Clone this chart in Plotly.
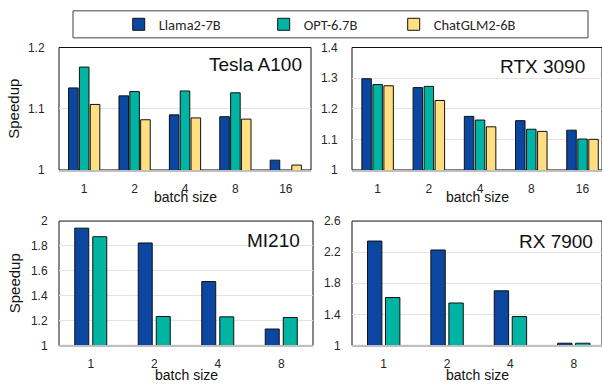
import plotly.graph_objects as go

W, H = 602, 392

series = ["Llama2-7B", "OPT-6.7B", "ChatGLM2-6B"]
colors = ["#0B47A1", "#00B4A4", "#FFDF80"]

a100_batch = ["1", "2", "4", "8", "16"]
a100_llama = [1.134, 1.121, 1.090, 1.087, 1.016]
a100_opt = [1.168, 1.128, 1.129, 1.126, None]
a100_glm = [1.107, 1.082, 1.085, 1.083, 1.008]

rtx_batch = ["1", "2", "4", "8", "16"]
rtx_llama = [1.298, 1.269, 1.175, 1.161, 1.130]
rtx_opt = [1.279, 1.273, 1.163, 1.133, 1.101]
rtx_glm = [1.275, 1.227, 1.141, 1.126, 1.100]

mi_batch = ["1", "2", "4", "8"]
mi_llama = [1.943, 1.824, 1.514, 1.132]
mi_opt = [1.874, 1.233, 1.230, 1.225]

rx_batch = ["1", "2", "4", "8"]
rx_llama = [2.343, 2.228, 1.703, 1.029]
rx_opt = [1.616, 1.546, 1.372, 1.029]

panels = [
    dict(name="Tesla A100", x=a100_batch, ys=[a100_llama, a100_opt, a100_glm],
         px=(59, 311), py=(42, 169), yr=(1, 1.2), dt=0.1, xr=(-0.5, 4.5),
         s=0.215, w=0.19, tshift=(-7, 17.5), tl=11, xtl=7, tb=207),
    dict(name="RTX 3090", x=rtx_batch, ys=[rtx_llama, rtx_opt, rtx_glm],
         px=(352, 602), py=(42, 169), yr=(1, 1.4), dt=0.1, xr=(-0.5, 4.38),
         s=0.215, w=0.185, tshift=(-15, 19.5), tl=11, xtl=7, tb=207),
    dict(name="MI210", x=mi_batch, ys=[mi_llama, mi_opt],
         px=(59, 313), py=(222, 351), yr=(1, 2), dt=0.2, xr=(-0.5, 3.5),
         s=0.284, w=0.22, tshift=(-11, 19.5), tl=8, xtl=6, tb=392),
    dict(name="RX 7900", x=rx_batch, ys=[rx_llama, rx_opt],
         px=(352, 602), py=(222, 351), yr=(1, 2.6), dt=0.4, xr=(-0.5, 3.445),
         s=0.284, w=0.227, tshift=(-7, 20.5), tl=8, xtl=6, tb=392),
]

AX_FONT = "Liberation Sans, Arial, sans-serif"
LEG_FONT = "Carlito, Lato, sans-serif"

fig = go.Figure()
layout = {}
annotations = []
shapes = []

for i, p in enumerate(panels):
    k = "" if i == 0 else str(i + 1)
    xa, ya = "x" + k, "y" + k
    n = len(p["ys"])
    for j, yv in enumerate(p["ys"]):
        centre = (j - (n - 1) / 2) * p["s"]
        fig.add_trace(go.Bar(
            x=p["x"], y=yv, xaxis=xa, yaxis=ya,
            name=series[j],
            marker=dict(color=colors[j], line=dict(color="#111111", width=1)),
            width=p["w"], offset=centre - p["w"] / 2,
            showlegend=(i == 0),
            legend="legend" if j == 0 else "legend" + str(j + 1),
        ))
    x0, x1 = p["px"][0] / W, p["px"][1] / W
    y0, y1 = 1 - p["py"][1] / H, 1 - p["py"][0] / H
    layout["xaxis" + k] = dict(
        domain=[x0, x1], anchor=ya, type="category", range=list(p["xr"]),
        showline=True, linecolor="#BFBFBF", linewidth=2,
        ticks="outside", ticklen=p["xtl"], tickcolor="rgba(0,0,0,0)",
        tickfont=dict(family=AX_FONT, size=12, color="#262626"),
        showgrid=False, fixedrange=True,
    )
    layout["yaxis" + k] = dict(
        domain=[y0, y1], anchor=xa, range=list(p["yr"]), tick0=1, dtick=p["dt"],
        showline=False, gridcolor="#E3E3E3", gridwidth=1, zeroline=False,
        ticks="outside", ticklen=p["tl"], tickcolor="rgba(0,0,0,0)",
        tickfont=dict(family=AX_FONT, size=12, color="#262626"),
        fixedrange=True,
    )
    shapes.append(dict(type="rect", xref=xa + " domain", yref=ya + " domain",
                       x0=0, x1=1, y0=0, y1=1, layer="below",
                       line=dict(color="#111111", width=1)))
    annotations.append(dict(
        text=p["name"], xref=xa + " domain", yref=ya + " domain",
        x=1, y=1, xanchor="right", yanchor="middle", showarrow=False,
        xshift=p["tshift"][0], yshift=-p["tshift"][1],
        font=dict(family=AX_FONT, size=19, color="#111111")))
    annotations.append(dict(
        text="batch size", xref=xa + " domain", yref="paper",
        x=0.5, y=1 - p["tb"] / H,
        xanchor="center", yanchor="bottom", showarrow=False,
        font=dict(family=AX_FONT, size=14, color="#111111")))
    if i in (0, 2):
        annotations.append(dict(
            text="Speedup", xref="paper", yref=ya + " domain",
            x=14 / W, y=0.5, xanchor="center", yanchor="middle",
            textangle=-90, showarrow=False,
            font=dict(family=AX_FONT, size=15, color="#111111")))

# legend frame
shapes.append(dict(type="rect", xref="paper", yref="paper",
                   x0=73 / W, x1=588 / W, y0=1 - 32 / H, y1=1 - 4 / H,
                   line=dict(color="#404040", width=1)))

text_x = [156.7, 301.7, 431.7]
for j in range(3):
    key = "legend" if j == 0 else "legend" + str(j + 1)
    layout[key] = dict(
        x=(text_x[j] - 38) / W, y=1 - 18 / H, xanchor="left", yanchor="middle",
        orientation="h", bgcolor="rgba(0,0,0,0)", borderwidth=0,
        font=dict(family=LEG_FONT, size=14.5, color="#262626"),
        itemwidth=30, itemclick=False, itemdoubleclick=False,
    )

fig.update_layout(
    width=W, height=H, margin=dict(l=0, r=0, t=0, b=0),
    paper_bgcolor="white", plot_bgcolor="white",
    barmode="overlay", annotations=annotations, shapes=shapes,
    **layout,
)
fig.write_html("out.html", config={"displayModeBar": False})
